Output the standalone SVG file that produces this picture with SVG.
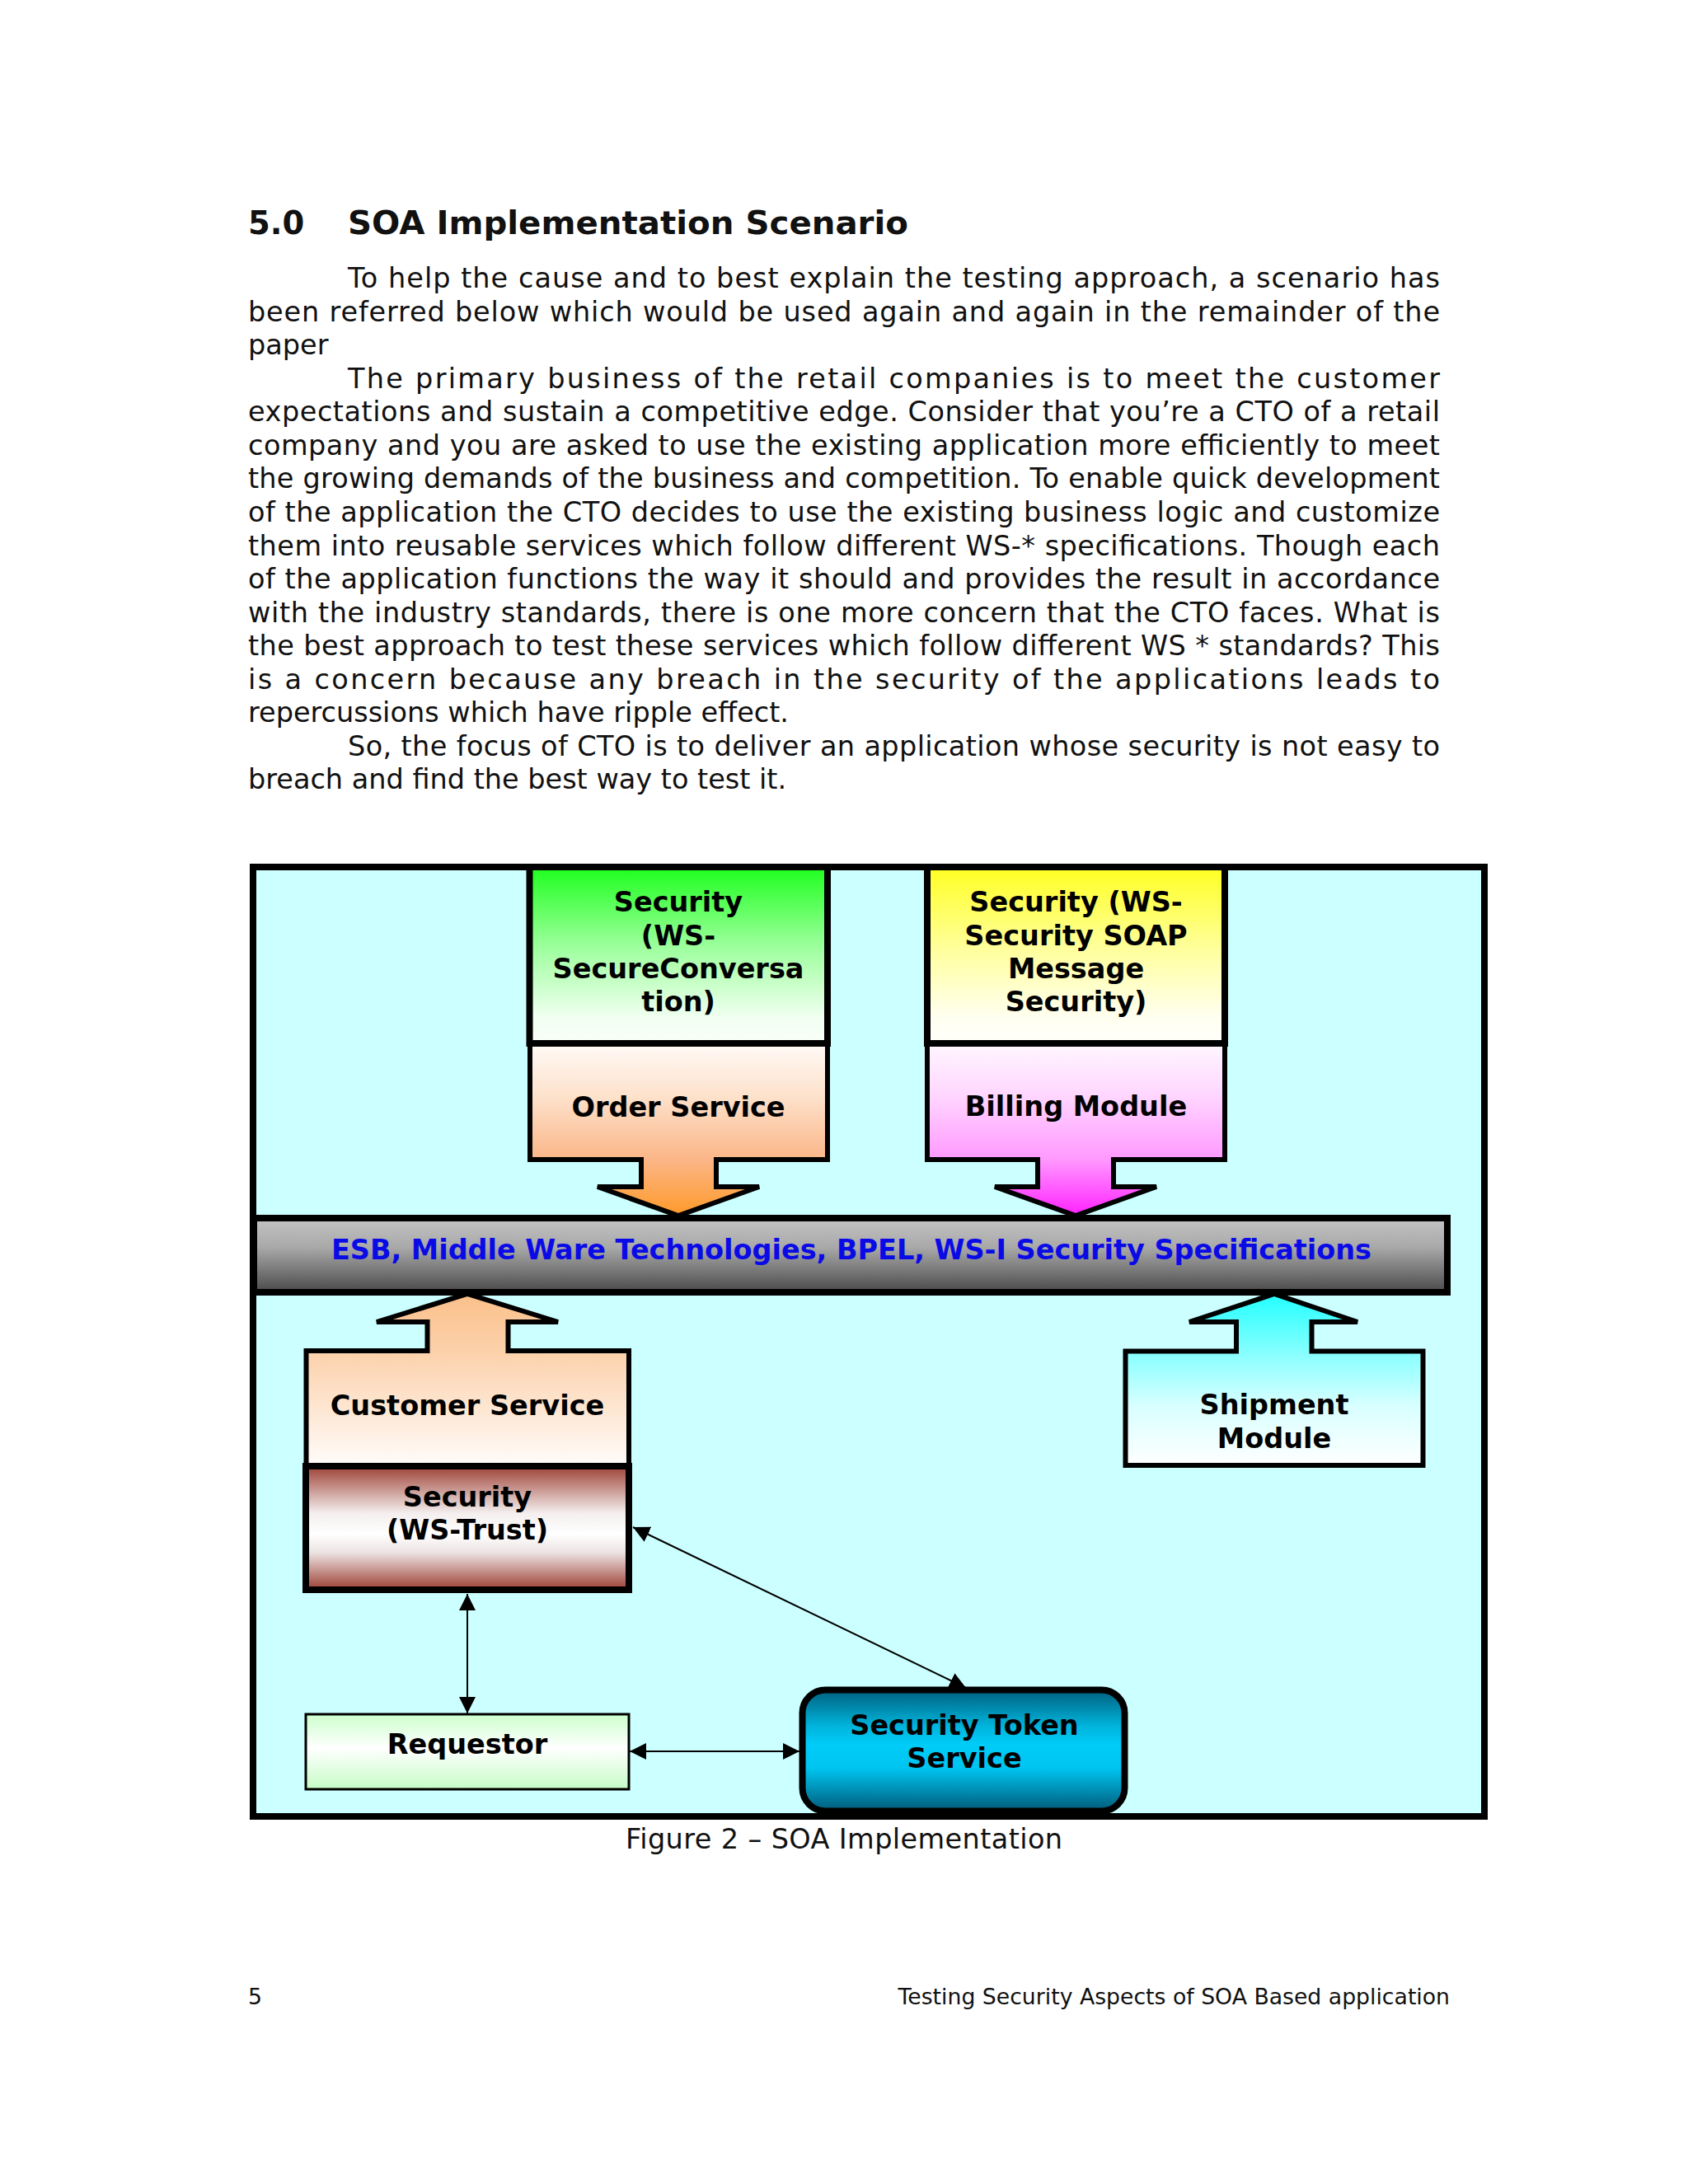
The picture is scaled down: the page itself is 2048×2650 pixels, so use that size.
<svg xmlns="http://www.w3.org/2000/svg" width="2048" height="2650" viewBox="0 0 2048 2650">
<defs>
<style>
.body{font-family:"DejaVu Sans","Verdana",sans-serif;font-size:33.5px;fill:#111}
.head{font-family:"DejaVu Sans","Verdana",sans-serif;font-size:38.5px;font-weight:bold;fill:#111}
.lbl{font-family:"DejaVu Sans","Verdana",sans-serif;font-size:33.5px;font-weight:bold;fill:#000;text-anchor:middle}
.esb{font-family:"DejaVu Sans","Verdana",sans-serif;font-size:33.5px;font-weight:bold;fill:#0a0ae6;text-anchor:middle}
.foot{font-family:"DejaVu Sans","Verdana",sans-serif;font-size:26.7px;fill:#111}
.shape{stroke:#000;stroke-width:6;stroke-linejoin:miter}
.thick{stroke:#000;stroke-width:8}
.conn{stroke:#000;stroke-width:2;fill:none}
</style>
<linearGradient id="gGreen" x1="0" y1="0" x2="0" y2="1"><stop offset="0" stop-color="#1eff1e"/><stop offset="0.45" stop-color="#9cff9c"/><stop offset="0.85" stop-color="#f0fff0"/><stop offset="1" stop-color="#fafffa"/></linearGradient>
<linearGradient id="gYellow" x1="0" y1="0" x2="0" y2="1"><stop offset="0" stop-color="#ffff22"/><stop offset="0.45" stop-color="#ffff99"/><stop offset="0.85" stop-color="#fffff0"/><stop offset="1" stop-color="#fffffa"/></linearGradient>
<linearGradient id="gOrder" x1="0" y1="0" x2="0" y2="1"><stop offset="0" stop-color="#fffaf6"/><stop offset="0.3" stop-color="#fde2cc"/><stop offset="0.67" stop-color="#fbb688"/><stop offset="1" stop-color="#ff9a2a"/></linearGradient>
<linearGradient id="gBilling" x1="0" y1="0" x2="0" y2="1"><stop offset="0" stop-color="#fff6ff"/><stop offset="0.3" stop-color="#ffd6ff"/><stop offset="0.67" stop-color="#ff99ff"/><stop offset="1" stop-color="#ff22ff"/></linearGradient>
<linearGradient id="gEsb" x1="0" y1="0" x2="0" y2="1"><stop offset="0" stop-color="#c4c4c4"/><stop offset="0.4" stop-color="#a8a8a8"/><stop offset="1" stop-color="#4a4a4a"/></linearGradient>
<linearGradient id="gCust" x1="0" y1="0" x2="0" y2="1"><stop offset="0" stop-color="#fbc08a"/><stop offset="0.35" stop-color="#fcd2ac"/><stop offset="1" stop-color="#fffcfa"/></linearGradient>
<linearGradient id="gShip" x1="0" y1="0" x2="0" y2="1"><stop offset="0" stop-color="#22ffff"/><stop offset="0.35" stop-color="#88ffff"/><stop offset="0.65" stop-color="#d8ffff"/><stop offset="1" stop-color="#ffffff"/></linearGradient>
<linearGradient id="gTrust" x1="0" y1="0" x2="0" y2="1"><stop offset="0" stop-color="#9e4236"/><stop offset="0.38" stop-color="#f4eeee"/><stop offset="0.55" stop-color="#ffffff"/><stop offset="0.7" stop-color="#ece2e2"/><stop offset="1" stop-color="#9c3e32"/></linearGradient>
<linearGradient id="gReq" x1="0" y1="0" x2="0" y2="1"><stop offset="0" stop-color="#ccffcc"/><stop offset="0.45" stop-color="#ffffff"/><stop offset="1" stop-color="#c6fcc6"/></linearGradient>
<linearGradient id="gSts" x1="0" y1="0" x2="0" y2="1"><stop offset="0" stop-color="#00607e"/><stop offset="0.3" stop-color="#00b4dc"/><stop offset="0.45" stop-color="#00ccf8"/><stop offset="0.65" stop-color="#00c4f0"/><stop offset="1" stop-color="#005a78"/></linearGradient>
<marker id="ah" viewBox="0 0 20 20" refX="20" refY="10" markerWidth="20" markerHeight="20" markerUnits="userSpaceOnUse" orient="auto-start-reverse"><path d="M0,0 L20,10 L0,20 z" fill="#000"/></marker>
</defs>
<rect width="2048" height="2650" fill="#ffffff"/>

<g id="text-section">
<text class="head" x="301" y="284">5.0</text>
<text class="head" x="422" y="284" textLength="680" lengthAdjust="spacingAndGlyphs">SOA Implementation Scenario</text>
<text class="body" x="422" y="349" textLength="1325" lengthAdjust="spacing">To help the cause and to best explain the testing approach, a scenario has</text>
<text class="body" x="301" y="389.5" textLength="1446" lengthAdjust="spacing">been referred below which would be used again and again in the remainder of the</text>
<text class="body" x="301" y="430">paper</text>
<text class="body" x="422" y="470.6" textLength="1325" lengthAdjust="spacing">The primary business of the retail companies is to meet the customer</text>
<text class="body" x="301" y="511.2" textLength="1446" lengthAdjust="spacing">expectations and sustain a competitive edge. Consider that you’re a CTO of a retail</text>
<text class="body" x="301" y="551.8" textLength="1446" lengthAdjust="spacing">company and you are asked to use the existing application more efficiently to meet</text>
<text class="body" x="301" y="592.3" textLength="1446" lengthAdjust="spacing">the growing demands of the business and competition.  To enable quick development</text>
<text class="body" x="301" y="632.9" textLength="1446" lengthAdjust="spacing">of the application the CTO decides to use the existing business logic and customize</text>
<text class="body" x="301" y="673.5" textLength="1446" lengthAdjust="spacing">them into reusable services which follow different WS-* specifications. Though each</text>
<text class="body" x="301" y="714" textLength="1446" lengthAdjust="spacing">of the application functions the way it should and provides the result in accordance</text>
<text class="body" x="301" y="754.6" textLength="1446" lengthAdjust="spacing">with the industry standards, there is one more concern that the CTO faces. What is</text>
<text class="body" x="301" y="795.2" textLength="1446" lengthAdjust="spacing">the best approach to test these services which follow different WS * standards? This</text>
<text class="body" x="301" y="835.7" textLength="1446" lengthAdjust="spacing">is a concern because any breach in the security of the applications leads to</text>
<text class="body" x="301" y="876.3">repercussions which have ripple effect.</text>
<text class="body" x="422" y="916.9" textLength="1325" lengthAdjust="spacing">So, the focus of CTO is to deliver an application whose security is not easy to</text>
<text class="body" x="301" y="957.4">breach and find the best way to test it.</text>
</g>

<g id="frame-bg">
<rect x="307" y="1052" width="1494" height="1152" fill="#ccffff"/>
</g>

<g id="node-ws-secureconversation">
<rect x="642.5" y="1052" width="361.5" height="214" fill="url(#gGreen)" class="thick" stroke-width="7"/>
<text class="lbl" x="823" y="1106">Security</text>
<text class="lbl" x="823" y="1147">(WS-</text>
<text class="lbl" x="823" y="1187">SecureConversa</text>
<text class="lbl" x="823" y="1227">tion)</text>
</g>

<g id="node-order-service">
<polygon class="shape" fill="url(#gOrder)" points="643,1267 1004,1267 1004,1407 869,1407 869,1440 921,1440 823,1475 725,1440 778,1440 778,1407 643,1407"/>
<text class="lbl" x="823" y="1355">Order Service</text>
</g>

<g id="node-ws-security-soap">
<rect x="1125" y="1052" width="361" height="214" fill="url(#gYellow)" class="thick" stroke-width="7"/>
<text class="lbl" x="1305.5" y="1106">Security (WS-</text>
<text class="lbl" x="1305.5" y="1147">Security SOAP</text>
<text class="lbl" x="1305.5" y="1187">Message</text>
<text class="lbl" x="1305.5" y="1227">Security)</text>
</g>

<g id="node-billing-module">
<polygon class="shape" fill="url(#gBilling)" points="1125,1267 1486,1267 1486,1407 1351,1407 1351,1440 1403,1440 1305,1475 1207,1440 1259,1440 1259,1407 1125,1407"/>
<text class="lbl" x="1305.5" y="1354">Billing Module</text>
</g>

<g id="node-esb">
<rect x="308" y="1478" width="1448" height="90" fill="url(#gEsb)" class="thick"/>
<text class="esb" x="1033" y="1528" textLength="1262" lengthAdjust="spacing">ESB, Middle Ware Technologies, BPEL, WS-I Security Specifications</text>
</g>

<g id="node-customer-service">
<polygon class="shape" fill="url(#gCust)" points="371.5,1779 371.5,1639 518.5,1639 518.5,1604 457,1604 567,1570 677,1604 616.5,1604 616.5,1639 763,1639 763,1779"/>
<text class="lbl" x="567" y="1717">Customer Service</text>
</g>

<g id="node-ws-trust">
<rect x="371" y="1779" width="392" height="150" fill="url(#gTrust)" class="thick"/>
<text class="lbl" x="567" y="1828">Security</text>
<text class="lbl" x="567" y="1868">(WS-Trust)</text>
</g>

<g id="node-shipment-module">
<polygon class="shape" fill="url(#gShip)" points="1365.5,1778 1365.5,1639.5 1500,1639.5 1500,1604 1443,1604 1546,1570 1647,1604 1591.5,1604 1591.5,1639.5 1726.5,1639.5 1726.5,1778"/>
<text class="lbl" x="1546" y="1716">Shipment</text>
<text class="lbl" x="1546" y="1757">Module</text>
</g>

<g id="node-requestor">
<rect x="371" y="2080" width="392" height="91" fill="url(#gReq)" stroke="#000" stroke-width="3"/>
<text class="lbl" x="567" y="2128">Requestor</text>
</g>

<g id="connectors">
<line class="conn" x1="567" y1="1934" x2="567" y2="2079" marker-start="url(#ah)" marker-end="url(#ah)"/>
<line class="conn" x1="764" y1="2125" x2="970" y2="2125" marker-start="url(#ah)" marker-end="url(#ah)"/>
<line class="conn" x1="768" y1="1853" x2="1172" y2="2048" marker-start="url(#ah)" marker-end="url(#ah)"/>
</g>

<g id="node-security-token-service">
<rect x="973.5" y="2050.5" width="391" height="147" rx="28" ry="28" fill="url(#gSts)" class="thick" stroke-width="7.5"/>
<text class="lbl" x="1170" y="2105">Security Token</text>
<text class="lbl" x="1170" y="2145">Service</text>
</g>

<g id="frame-border">
<rect x="307" y="1052" width="1494" height="1152" fill="none" stroke="#000" stroke-width="8"/>
</g>

<g id="captions">
<text class="body" x="1024" y="2243" text-anchor="middle" textLength="530" lengthAdjust="spacing">Figure 2 – SOA Implementation</text>
<text class="foot" x="301" y="2432">5</text>
<text class="foot" x="1759" y="2432" text-anchor="end">Testing Security Aspects of SOA Based application</text>
</g>
</svg>
